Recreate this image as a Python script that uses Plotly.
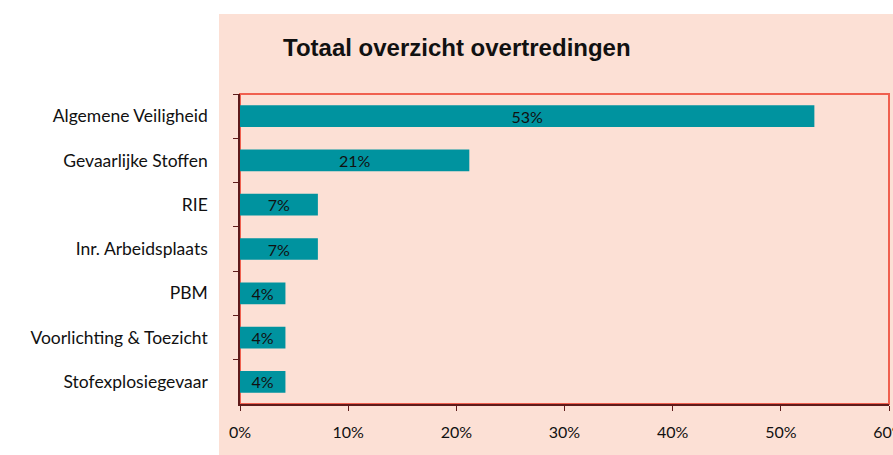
import plotly.graph_objects as go

categories = ["Algemene Veiligheid", "Gevaarlijke Stoffen", "RIE", "Inr. Arbeidsplaats",
              "PBM", "Voorlichting & Toezicht", "Stofexplosiegevaar"]
values = [53.1, 21.2, 7.2, 7.2, 4.2, 4.2, 4.2]
bar_labels = ["53%", "21%", "7%", "7%", "4%", "4%", "4%"]
x_ticks = [0, 10, 20, 30, 40, 50, 60]
x_tick_labels = ["0%", "10%", "20%", "30%", "40%", "50%", "60%"]
title = "Totaal overzicht overtredingen"

W, H = 893, 455
L, R, T, B = 240, 4, 94, 51
pw, ph = W - L - R, H - T - B

PINK = "#fce0d5"
TEAL = "#00939f"
AXIS = "#5e1b1b"
RED = "#f0604f"
FONT = "Lato, 'Noto Sans', sans-serif"

fig = go.Figure(go.Bar(
    x=values, y=categories, orientation="h",
    marker=dict(color=TEAL, line=dict(width=0)),
    text=bar_labels, textposition="inside", insidetextanchor="middle",
    constraintext="none",
    textfont=dict(family=FONT, size=16, color="#111111"),
    textangle=0, cliponaxis=False,
))

fig.update_layout(
    width=W, height=H,
    margin=dict(l=L, r=R, t=T, b=B, autoexpand=False),
    paper_bgcolor="white", plot_bgcolor=PINK,
    bargap=0.51, showlegend=False,
    font=dict(family=FONT, size=16, color="#111111"),
    xaxis=dict(range=[0, 60], tickvals=x_ticks, ticktext=x_tick_labels,
               showgrid=False, zeroline=False, showline=True, linecolor=AXIS, linewidth=1.5,
               ticks="outside", ticklen=5, tickcolor=AXIS, tickwidth=1,
               ticklabeloverflow="allow",
               tickfont=dict(family=FONT, size=16, color="#111111"), ticklabelstandoff=8),
    yaxis=dict(autorange="reversed", showgrid=False, zeroline=False, showline=True,
               linecolor=AXIS, linewidth=1.5, ticks="outside", ticklen=5, tickcolor=AXIS,
               tickwidth=1, tickson="boundaries",
               tickfont=dict(family=FONT, size=17.5, color="#111111"), ticklabelstandoff=27),
    shapes=[
        dict(type="rect", xref="paper", yref="paper", layer="below",
             x0=(219 - L) / pw, x1=(W - L) / pw, y0=-B / ph, y1=(H - B - 14) / ph,
             fillcolor=PINK, line=dict(width=0)),
        dict(type="rect", xref="paper", yref="paper", layer="below",
             x0=0, x1=1, y0=0, y1=1, fillcolor="rgba(0,0,0,0)",
             line=dict(color=RED, width=2)),
    ],
    annotations=[dict(text="<b>" + title + "</b>", xref="paper", yref="paper",
                      x=(457 - L) / pw, y=(H - B - 48) / ph, xanchor="center", yanchor="middle",
                      showarrow=False,
                      font=dict(family="'Liberation Sans', Arial, sans-serif", size=24, color="#111111"))],
)

fig.write_html("out.html", config={"displayModeBar": False},
               post_script="document.body.style.margin='0';")
